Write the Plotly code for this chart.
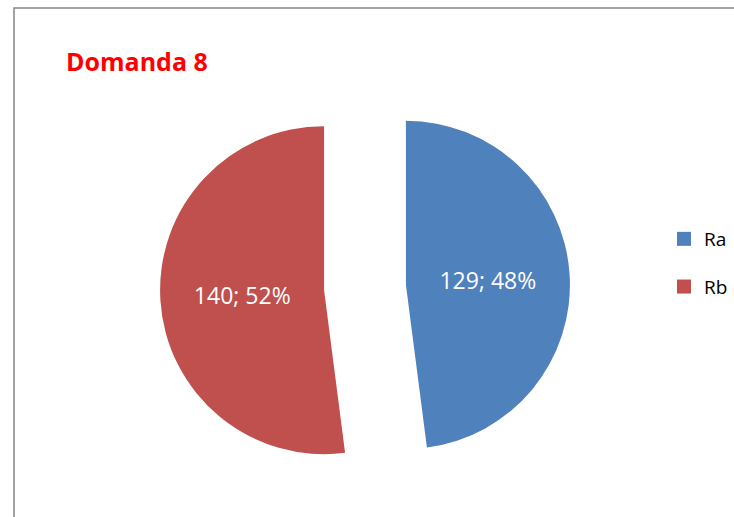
import plotly.graph_objects as go

labels = ["Ra", "Rb"]
values = [129, 140]
colors = ["#4F81BD", "#C0504D"]

W, H = 734, 517

fig = go.Figure()

fig.add_trace(go.Pie(
    labels=labels,
    values=values,
    sort=False,
    direction="clockwise",
    rotation=0,
    pull=[0.25, 0.25],
    marker=dict(colors=colors, line=dict(width=0)),
    texttemplate="%{value}; %{percent:.0%}",
    textposition="inside",
    insidetextorientation="horizontal",
    textfont=dict(family="Open Sans", size=23, color="white"),
    domain=dict(x=[160 / W, 570 / W], y=[1 - 492.5 / H, 1 - 82.5 / H]),
    showlegend=False,
    hoverinfo="label+value+percent",
))

# legend entries (spaced like the original)
for i, (lab, col) in enumerate(zip(labels, colors)):
    fig.add_trace(go.Scatter(
        x=[None], y=[None], mode="markers", name=lab,
        marker=dict(symbol="square", size=14, color=col),
        legendgroup=lab, hoverinfo="skip",
    ))

fig.update_layout(
    width=W, height=H,
    margin=dict(l=0, r=0, t=0, b=0),
    paper_bgcolor="white",
    plot_bgcolor="white",
    xaxis=dict(visible=False),
    yaxis=dict(visible=False),
    title=dict(
        text="<b>Domanda 8</b>",
        font=dict(family="Open Sans", size=25, color="#FF0000"),
        x=66 / W, xanchor="left",
        y=1 - 62 / H, yanchor="middle",
    ),
    legend=dict(
        x=664 / W, xanchor="left",
        y=1 - 220 / H, yanchor="top",
        font=dict(family="Open Sans", size=19, color="black"),
        tracegroupgap=20,
        bgcolor="rgba(0,0,0,0)",
    ),
    shapes=[dict(
        type="rect", xref="paper", yref="paper",
        x0=14 / W, x1=1.02, y0=-0.02, y1=1 - 8 / H,
        line=dict(color="#878787", width=1.5),
        fillcolor="rgba(0,0,0,0)",
    )],
)

fig.write_html("out.html", config={"displayModeBar": False},
               post_script="document.body.style.margin='0';")
